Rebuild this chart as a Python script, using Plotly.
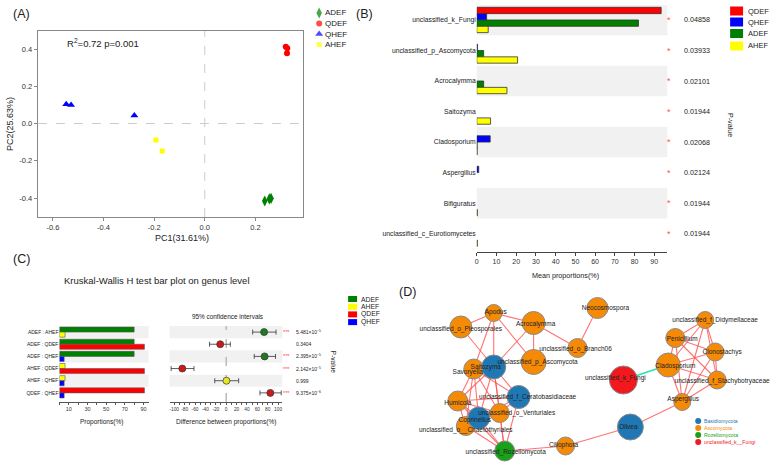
import plotly.graph_objects as go

W, H = 774, 465
FONT = "Liberation Sans, Arial, sans-serif"


def fx(p):
    return p / W


def fy(p):
    return 1 - p / H


# ---------------- Panel A : PCoA ----------------
adef_pc1 = [0.237, 0.255, 0.262]
adef_pc2 = [-0.416, -0.405, -0.402]
qdef_pc1 = [0.320, 0.326, 0.325]
qdef_pc2 = [0.412, 0.404, 0.377]
qhef_pc1 = [-0.547, -0.528, -0.278]
qhef_pc2 = [0.104, 0.100, 0.043]
ahef_pc1 = [-0.193, -0.168]
ahef_pc2 = [-0.088, -0.148]
a_stat = "R<sup>2</sup>=0.72 p=0.001"

# ---------------- Panel B : mean proportions ----------------
genera = ["unclassified_k_Fungi", "unclassified_p_Ascomycota", "Acrocalymma", "Saitozyma",
          "Cladosporium", "Aspergillus", "Bifiguratus", "unclassified_c_Eurotiomycetes"]
b_qdef = [93.5, 0, 0, 0, 0, 0, 0, 0]
b_qhef = [5.0, 0.4, 0, 0, 6.8, 1.0, 0, 0]
b_adef = [82.0, 3.5, 3.5, 0, 0.2, 0, 0, 0]
b_ahef = [5.8, 20.7, 15.3, 7.0, 0.2, 0, 0.3, 0.3]
b_pval = ["0.04858", "0.03933", "0.02101", "0.01944", "0.02068", "0.02124", "0.01944", "0.01944"]
b_xticks = [0, 10, 20, 30, 40, 50, 60, 70, 80, 90]

# ---------------- Panel C : Kruskal-Wallis ----------------
comparisons = ["ADEF : AHEF", "ADEF : QDEF", "ADEF : QHEF", "AHEF : QDEF", "AHEF : QHEF", "QDEF : QHEF"]
grp1 = ["ADEF", "ADEF", "ADEF", "AHEF", "AHEF", "QDEF"]
grp2 = ["AHEF", "QDEF", "QHEF", "QDEF", "QHEF", "QHEF"]
prop1 = [80.0, 80.0, 80.0, 6.0, 6.0, 91.0]
prop2 = [6.0, 91.0, 5.0, 91.0, 5.0, 5.0]
diff = [73.0, -11.5, 74.0, -84.5, 0.5, 85.0]
ci_low = [51.0, -32.0, 54.0, -106.0, -22.0, 65.0]
ci_high = [96.0, 8.0, 95.0, -62.0, 24.0, 106.0]
c_pval = ["5.481×10<sup>−5</sup>", "0.3404", "2.395×10<sup>−5</sup>", "2.142×10<sup>−5</sup>",
          "0.999", "9.375×10<sup>−6</sup>"]
c_sig = ["***", "", "***", "***", "", "***"]
c_prop_ticks = [10, 30, 50, 70, 90]
c_diff_ticks = [-100, -80, -60, -40, -20, 0, 20, 40, 60, 80, 100]

# ---------------- Panel D : co-occurrence network ----------------
nodes = ["Neocosmospora", "unclassified_o_Pleosporales", "Apodus", "Acrocalymma",
         "unclassified_o_Branch06", "unclassified_p_Ascomycota", "Savoryella", "Saitozyma",
         "Humicola", "unclassified_f_Ceratobasidiaceae", "unclassified_o__Chaetothyriales",
         "Coprinellus", "unclassified_o_Venturiales", "unclassified_Rozellomycota", "Ciliophora",
         "Olivea", "Aspergillus", "unclassified_k_Fungi", "Cladosporium", "Penicillium",
         "unclassified_f_Didymellaceae", "Clonostachys", "unclassified_f_Stachybotryaceae"]
node_phylum = ["Ascomycota", "Ascomycota", "Ascomycota", "Ascomycota", "Ascomycota", "Ascomycota",
               "Ascomycota", "Basidiomycota", "Ascomycota", "Basidiomycota", "Ascomycota",
               "Basidiomycota", "Ascomycota", "Rozellomycota", "Ascomycota", "Basidiomycota",
               "Ascomycota", "unclassified_k__Fungi", "Ascomycota", "Ascomycota", "Ascomycota",
               "Ascomycota", "Ascomycota"]
node_weight = [21, 22, 17, 23, 19, 25, 20, 24, 20, 23, 19, 22, 19, 20, 18, 26, 17, 28, 24, 19, 17, 18, 18]
pos_edges = [
    ("unclassified_o_Pleosporales", "Saitozyma"), ("unclassified_o_Pleosporales", "Apodus"),
    ("Apodus", "Acrocalymma"), ("Apodus", "Saitozyma"), ("Apodus", "unclassified_p_Ascomycota"),
    ("Apodus", "Savoryella"), ("Acrocalymma", "Saitozyma"), ("Acrocalymma", "unclassified_p_Ascomycota"),
    ("Acrocalymma", "unclassified_o_Branch06"), ("unclassified_o_Branch06", "Neocosmospora"),
    ("Saitozyma", "unclassified_f_Ceratobasidiaceae"), ("Saitozyma", "unclassified_o_Venturiales"),
    ("Saitozyma", "Humicola"), ("Saitozyma", "Coprinellus"), ("Saitozyma", "unclassified_Rozellomycota"),
    ("Savoryella", "Humicola"), ("Savoryella", "Coprinellus"), ("Savoryella", "unclassified_o__Chaetothyriales"),
    ("Savoryella", "unclassified_o_Venturiales"), ("Savoryella", "unclassified_f_Ceratobasidiaceae"),
    ("Humicola", "unclassified_f_Ceratobasidiaceae"), ("Humicola", "Coprinellus"),
    ("Humicola", "unclassified_o__Chaetothyriales"), ("Humicola", "unclassified_Rozellomycota"),
    ("Humicola", "unclassified_o_Venturiales"),
    ("unclassified_f_Ceratobasidiaceae", "unclassified_o_Venturiales"),
    ("unclassified_f_Ceratobasidiaceae", "unclassified_Rozellomycota"),
    ("unclassified_f_Ceratobasidiaceae", "Coprinellus"),
    ("unclassified_o_Venturiales", "unclassified_Rozellomycota"), ("unclassified_o_Venturiales", "Coprinellus"),
    ("unclassified_o_Venturiales", "unclassified_o__Chaetothyriales"),
    ("Coprinellus", "unclassified_Rozellomycota"), ("unclassified_o__Chaetothyriales", "unclassified_Rozellomycota"),
    ("unclassified_Rozellomycota", "Ciliophora"), ("Ciliophora", "Olivea"), ("Olivea", "Aspergillus"),
    ("Cladosporium", "Penicillium"), ("Cladosporium", "unclassified_f_Didymellaceae"),
    ("Cladosporium", "Clonostachys"), ("Cladosporium", "unclassified_f_Stachybotryaceae"),
    ("Cladosporium", "Aspergillus"), ("Penicillium", "unclassified_f_Didymellaceae"),
    ("Penicillium", "Clonostachys"), ("Penicillium", "unclassified_f_Stachybotryaceae"),
    ("Penicillium", "Aspergillus"), ("unclassified_f_Didymellaceae", "Clonostachys"),
    ("unclassified_f_Didymellaceae", "unclassified_f_Stachybotryaceae"),
    ("unclassified_f_Didymellaceae", "Aspergillus"), ("Clonostachys", "unclassified_f_Stachybotryaceae"),
    ("Clonostachys", "Aspergillus"), ("unclassified_f_Stachybotryaceae", "Aspergillus"),
]
neg_edges = [("unclassified_k_Fungi", "Cladosporium")]
phyla = ["Basidiomycota", "Ascomycota", "Rozellomycota", "unclassified_k__Fungi"]

# network layout (pixel space of the page)
NODE_POS = {
    "Neocosmospora": (597, 308), "unclassified_o_Pleosporales": (460, 327), "Apodus": (493, 313),
    "Acrocalymma": (533, 323), "unclassified_o_Branch06": (577, 348),
    "unclassified_p_Ascomycota": (533, 362), "Savoryella": (473, 369), "Saitozyma": (493, 367),
    "Humicola": (457, 401), "unclassified_f_Ceratobasidiaceae": (518, 397),
    "unclassified_o__Chaetothyriales": (465, 426), "Coprinellus": (478, 418),
    "unclassified_o_Venturiales": (499, 413), "unclassified_Rozellomycota": (504, 451),
    "Ciliophora": (565, 446), "Olivea": (630, 427), "Aspergillus": (682, 402),
    "unclassified_k_Fungi": (623, 380), "Cladosporium": (668, 365), "Penicillium": (675, 338),
    "unclassified_f_Didymellaceae": (705, 320), "Clonostachys": (715, 352),
    "unclassified_f_Stachybotryaceae": (717, 380),
}
LABEL_SHIFT = {
    "Neocosmospora": (8, 0), "unclassified_o_Pleosporales": (0, 2), "Apodus": (2, -1),
    "Acrocalymma": (2, 1), "unclassified_o_Branch06": (-2, 1), "unclassified_p_Ascomycota": (4, 0),
    "Savoryella": (-6, 3), "Saitozyma": (-8, 0), "Humicola": (0, 2),
    "unclassified_f_Ceratobasidiaceae": (9, 0), "unclassified_o__Chaetothyriales": (0, 4),
    "Coprinellus": (-4, 2), "unclassified_o_Venturiales": (17, 0), "unclassified_Rozellomycota": (1, 1),
    "Ciliophora": (-2, -1), "Olivea": (-2, 0), "Aspergillus": (1, -3), "unclassified_k_Fungi": (-8, -2),
    "Cladosporium": (7, 1), "Penicillium": (7, 1), "unclassified_f_Didymellaceae": (10, 0),
    "Clonostachys": (7, 0), "unclassified_f_Stachybotryaceae": (5, 1),
}

# ---------------- styles ----------------
GCOL = {"ADEF": "#008000", "QDEF": "#FF0000", "QHEF": "#0000FF", "AHEF": "#FFFF00"}
PCOL = {"Basidiomycota": "#1F78B4", "Ascomycota": "#F58A07", "Rozellomycota": "#1AA01A",
        "unclassified_k__Fungi": "#F2191E"}
BAND = "#F1F1F1"

fig = go.Figure()
shapes = []
anns = []


def ann(text, x, y, size, color="#222", xanchor="center", yanchor="middle", angle=0,
        xref="paper", yref="paper"):
    anns.append(dict(text=text, x=x, y=y, xref=xref, yref=yref, showarrow=False,
                     font=dict(size=size, color=color, family=FONT), xanchor=xanchor,
                     yanchor=yanchor, textangle=angle))


# ---- Panel A traces ----
for name, xs, ys, sym, sz in [("ADEF", adef_pc1, adef_pc2, "diamond-tall", 8),
                              ("QDEF", qdef_pc1, qdef_pc2, "circle", 6),
                              ("QHEF", qhef_pc1, qhef_pc2, "triangle-up", 7),
                              ("AHEF", ahef_pc1, ahef_pc2, "square", 5)]:
    fig.add_trace(go.Scatter(x=xs, y=ys, mode="markers", xaxis="x", yaxis="y",
                             marker=dict(color=GCOL[name], symbol=sym, size=sz, line=dict(width=0)),
                             showlegend=False))
shapes.append(dict(type="line", xref="x", yref="y domain", x0=0, x1=0, y0=0, y1=1,
                   line=dict(color="#CCCCCC", width=1, dash="dash")))
shapes.append(dict(type="line", xref="x domain", yref="y", x0=0, x1=1, y0=0, y1=0,
                   line=dict(color="#CCCCCC", width=1, dash="dash")))

# ---- Panel B traces ----
b_rows = list(range(len(genera)))
for name, vals in [("QDEF", b_qdef), ("QHEF", b_qhef), ("ADEF", b_adef), ("AHEF", b_ahef)]:
    fig.add_trace(go.Bar(x=vals, y=b_rows, orientation="h", xaxis="x2", yaxis="y2",
                         marker=dict(color=GCOL[name],
                                     line=dict(color="#333333", width=[0.8 if v > 0 else 0 for v in vals])),
                         showlegend=False))
for i in b_rows:
    if i % 2 == 0:
        shapes.append(dict(type="rect", xref="x2 domain", yref="y2", x0=0, x1=1, y0=i - 0.5, y1=i + 0.5,
                           fillcolor=BAND, line=dict(width=0), layer="below"))
    ann("*", fx(669), i, 9, color="#FF5050", yref="y2")
    ann(b_pval[i], fx(697), i, 7.2, color="#222", yref="y2")
ann("P-value", fx(730), fy(125), 7.2, angle=90)
ann("Mean proportions(%)", fx(565), fy(275), 7.2)

# ---- Panel C traces ----
c_rows = list(range(len(comparisons)))
fig.add_trace(go.Bar(x=prop1, y=c_rows, orientation="h", xaxis="x3", yaxis="y3",
                     marker=dict(color=[GCOL[g] for g in grp1], line=dict(color="#555", width=0.6)),
                     showlegend=False))
fig.add_trace(go.Bar(x=prop2, y=c_rows, orientation="h", xaxis="x3", yaxis="y3",
                     marker=dict(color=[GCOL[g] for g in grp2], line=dict(color="#555", width=0.6)),
                     showlegend=False))
DOT = {"ADEF": "#1E7B1E", "QDEF": "#CC1A1A", "QHEF": "#2020CC", "AHEF": "#E8E820"}
dot_col = [DOT[g1] if d > 0 else DOT[g2] for g1, g2, d in zip(grp1, grp2, diff)]
fig.add_trace(go.Scatter(x=diff, y=c_rows, mode="markers", xaxis="x4", yaxis="y4",
                         marker=dict(color=dot_col, size=7, line=dict(color="#333", width=0.7)),
                         error_x=dict(type="data", symmetric=False,
                                      array=[h - d for h, d in zip(ci_high, diff)],
                                      arrayminus=[d - l for d, l in zip(diff, ci_low)],
                                      color="#333", thickness=0.8, width=2.5),
                         showlegend=False))
for i in c_rows:
    if i % 2 == 0:
        for xa, ya in [("x3", "y3"), ("x4", "y4")]:
            shapes.append(dict(type="rect", xref=xa + " domain", yref=ya, x0=0, x1=1, y0=i - 0.5,
                               y1=i + 0.5, fillcolor=BAND, line=dict(width=0), layer="below"))
    if c_sig[i]:
        ann(c_sig[i], fx(285.5), i, 5.5, color="#FF4040", yref="y4")
    ann(c_pval[i], fx(293), i, 5, color="#222", xanchor="left", yref="y4")
shapes.append(dict(type="line", xref="x4", yref="y4 domain", x0=0, x1=0, y0=0, y1=1,
                   line=dict(color="#AAAAAA", width=1.2, dash="dash"), layer="below"))
ann("Kruskal-Wallis H test bar plot on genus level", fx(155), fy(280), 9.5)
ann("95% confidence intervals", fx(226), fy(316.5), 6.4)
ann("Proportions(%)", fx(100), fy(422), 6.5)
ann("Difference between proportions(%)", fx(225), fy(422), 6.5)
ann("P-value", fx(333), fy(362), 6.5, angle=90)

# ---- Panel D (network on a page-pixel overlay axis) ----
ex, ey = [], []
for a, b in pos_edges:
    ex += [NODE_POS[a][0], NODE_POS[b][0], None]
    ey += [NODE_POS[a][1], NODE_POS[b][1], None]
fig.add_trace(go.Scatter(x=ex, y=ey, mode="lines", xaxis="x5", yaxis="y5",
                         line=dict(color="rgba(255,80,80,0.8)", width=1.1), showlegend=False,
                         hoverinfo="skip"))
nx, ny = [], []
for a, b in neg_edges:
    nx += [NODE_POS[a][0], NODE_POS[b][0], None]
    ny += [NODE_POS[a][1], NODE_POS[b][1], None]
fig.add_trace(go.Scatter(x=nx, y=ny, mode="lines", xaxis="x5", yaxis="y5",
                         line=dict(color="#2FE0B0", width=1.6), showlegend=False, hoverinfo="skip"))
fig.add_trace(go.Scatter(x=[NODE_POS[n][0] for n in nodes], y=[NODE_POS[n][1] for n in nodes],
                         mode="markers", xaxis="x5", yaxis="y5",
                         marker=dict(size=node_weight, color=[PCOL[p] for p in node_phylum],
                                     line=dict(color="#8A8A8A", width=1), opacity=1),
                         showlegend=False))
fig.add_trace(go.Scatter(x=[NODE_POS[n][0] + LABEL_SHIFT[n][0] for n in nodes],
                         y=[NODE_POS[n][1] + LABEL_SHIFT[n][1] for n in nodes],
                         mode="text", text=nodes, xaxis="x5", yaxis="y5",
                         textfont=dict(size=6.5, color="#222", family=FONT), showlegend=False))

# ---- Legends ----
a_leg = [("ADEF", "diamond-tall", 8), ("QDEF", "circle", 6), ("QHEF", "triangle-up", 7), ("AHEF", "square", 5)]
a_leg_y = [13, 23.5, 34, 44.5]
fig.add_trace(go.Scatter(x=[318] * 4, y=a_leg_y, mode="markers", xaxis="x5", yaxis="y5",
                         marker=dict(color=[GCOL[n] for n, _, _ in a_leg], symbol=[s for _, s, _ in a_leg],
                                     size=[z for _, _, z in a_leg], line=dict(width=0)),
                         showlegend=False))
for (n, _, _), yy in zip(a_leg, a_leg_y):
    ann(n, fx(322), fy(yy), 8, xanchor="left")
d_leg_y = [421, 428, 435, 442]
fig.add_trace(go.Scatter(x=[698] * 4, y=d_leg_y, mode="markers", xaxis="x5", yaxis="y5",
                         marker=dict(color=[PCOL[p] for p in phyla], size=6, line=dict(width=0)),
                         showlegend=False))
for p, yy in zip(phyla, d_leg_y):
    ann(p, fx(702), fy(yy), 5.2, color=PCOL[p], xanchor="left")
for n, yy in zip(["QDEF", "QHEF", "ADEF", "AHEF"], [11, 22, 33.5, 46]):
    shapes.append(dict(type="rect", xref="paper", yref="paper", x0=fx(730), x1=fx(743),
                       y0=fy(yy + 4.5), y1=fy(yy - 4.5), fillcolor=GCOL[n], line=dict(width=0)))
    ann(n, fx(746), fy(yy), 7.5, xanchor="left")
for n, yy in zip(["ADEF", "AHEF", "QDEF", "QHEF"], [299, 306.7, 314.4, 322.1]):
    shapes.append(dict(type="rect", xref="paper", yref="paper", x0=fx(347), x1=fx(356),
                       y0=fy(yy + 3), y1=fy(yy - 3), fillcolor=GCOL[n], line=dict(width=0)))
    ann(n, fx(358), fy(yy), 6.8, xanchor="left")

ann("(A)", fx(20), fy(14), 12.5)
ann("(B)", fx(363), fy(14), 12.5)
ann("(C)", fx(20), fy(259), 12.5)
ann("(D)", fx(407), fy(292), 12.5)
ann(a_stat, fx(63), fy(43), 9.5, xanchor="left")
ann("PC1(31.61%)", fx(180), fy(238), 9)
ann("PC2(25.63%)", fx(8), fy(124), 9, angle=-90)

tickA = dict(size=7.5, color="#333", family=FONT)
fig.update_layout(
    width=W, height=H, margin=dict(l=0, r=0, t=0, b=0),
    paper_bgcolor="white", plot_bgcolor="rgba(0,0,0,0)",
    barmode="group", bargap=0.17, showlegend=False,
    font=dict(family=FONT, color="#222"),
    xaxis=dict(domain=[fx(36), fx(302)], range=[-0.659, 0.389], anchor="y",
               tickvals=[-0.6, -0.4, -0.2, 0, 0.2], ticktext=["-0.6", "-0.4", "-0.2", "0.0", "0.2"],
               showline=True, mirror=True, linecolor="#888", linewidth=1.2, ticks="outside",
               ticklen=3, tickcolor="#888", showgrid=False, zeroline=False, tickfont=tickA),
    yaxis=dict(domain=[fy(217), fy(31)], range=[-0.502, 0.497], anchor="x",
               tickvals=[-0.4, -0.2, 0, 0.2, 0.4], ticktext=["-0.4", "-0.2", "0.0", "0.2", "0.4"],
               showline=True, mirror=True, linecolor="#888", linewidth=1.2, ticks="outside",
               ticklen=3, tickcolor="#888", showgrid=False, zeroline=False, tickfont=tickA),
    xaxis2=dict(domain=[fx(476), fx(667)], range=[0, 96.6], anchor="y2",
                tickvals=b_xticks, showline=True, linecolor="#444", linewidth=0.8, ticks="outside",
                ticklen=3, tickcolor="#444", showgrid=False, zeroline=False,
                tickfont=dict(size=7, color="#333", family=FONT)),
    yaxis2=dict(domain=[fy(252), fy(4.7)], range=[7.6, -0.5], anchor="x2",
                tickvals=b_rows, ticktext=genera, showline=False, ticks="", showgrid=False,
                zeroline=False, tickfont=dict(size=6.8, color="#222", family=FONT)),
    xaxis3=dict(domain=[fx(57.6), fx(147)], range=[0, 95.5], anchor="y3",
                tickvals=c_prop_ticks,
                minor=dict(tickvals=[0, 20, 40, 60, 80], ticks="outside", ticklen=2, tickcolor="#555"),
                showline=True, linecolor="#555", linewidth=0.7, ticks="outside", ticklen=2,
                tickcolor="#555", showgrid=False, zeroline=False, tickangle=0,
                tickfont=dict(size=5.5, color="#333", family=FONT)),
    yaxis3=dict(domain=[fy(402), fy(326)], range=[5.75, -0.5], anchor="x3",
                tickvals=c_rows, ticktext=comparisons, showline=False, ticks="", showgrid=False,
                zeroline=False, tickfont=dict(size=5, color="#222", family=FONT)),
    xaxis4=dict(domain=[fx(168), fx(281)], range=[-109, 108], anchor="y4",
                tickvals=c_diff_ticks, ticktext=[str(v) for v in c_diff_ticks],
                minor=dict(tickvals=[-90, -70, -50, -30, -10, 10, 30, 50, 70, 90], ticks="outside",
                           ticklen=2, tickcolor="#555"),
                showline=True, linecolor="#555", linewidth=0.7, ticks="outside", ticklen=2,
                tickcolor="#555", showgrid=False, zeroline=False, tickangle=0,
                tickfont=dict(size=4.8, color="#333", family=FONT)),
    yaxis4=dict(domain=[fy(402), fy(326)], range=[5.75, -0.5], anchor="x4",
                showticklabels=False, showline=False, ticks="", showgrid=False, zeroline=False),
    xaxis5=dict(domain=[0, 1], range=[0, W], anchor="y5", visible=False, fixedrange=True),
    yaxis5=dict(domain=[0, 1], range=[H, 0], anchor="x5", visible=False, fixedrange=True),
    shapes=shapes, annotations=anns,
)

fig.write_html("out.html")
